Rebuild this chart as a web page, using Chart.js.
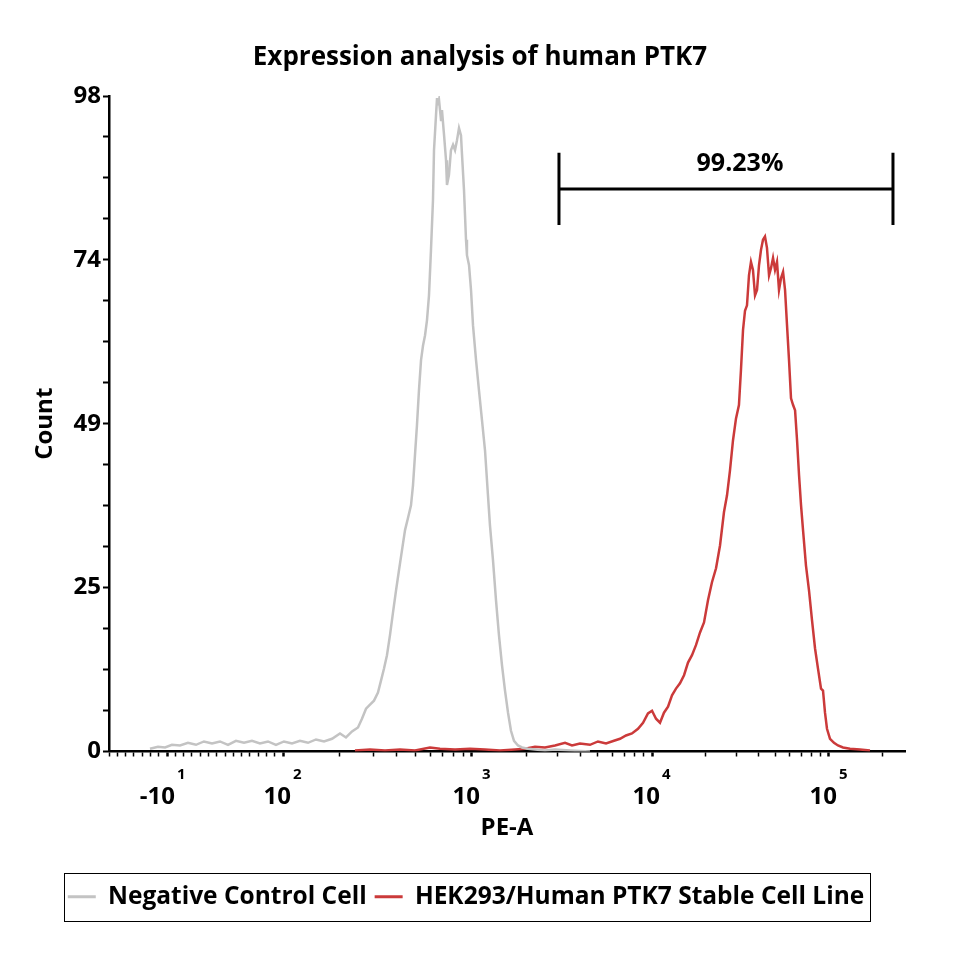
<!DOCTYPE html>
<html>
<head>
<meta charset="utf-8">
<script src="https://cdn.jsdelivr.net/npm/chart.js@4.4.1/dist/chart.umd.min.js"></script>
<style>
  html, body { margin: 0; padding: 0; background: #ffffff; }
  #wrap { width: 960px; height: 960px; }
</style>
</head>
<body>
<div id="wrap"><canvas id="c" width="960" height="960"></canvas></div>
<script>
// ---------------- DATA ----------------
// X values are display channels (0–1000) of the PE-A axis; Y values are counts.
const chartTitle = 'Expression analysis of human PTK7';
const xAxisTitle = 'PE-A';
const yAxisTitle = 'Count';
const seriesNames = ['Negative Control Cell', 'HEK293/Human PTK7 Stable Cell Line'];

const grayX = [51.5, 61.6, 70.4, 79.1, 89.2, 99.2, 109.3, 119.3, 129.4, 139.4, 149.5, 159.5, 169.6, 179.6, 189.7, 199.7, 209.8, 219.8, 229.9, 239.9, 250.0, 260.1, 270.1, 280.2, 290.2, 297.7, 305.3, 312.8, 317.8, 322.9, 327.9, 332.9, 337.9, 341.7, 345.5, 349.2, 353.0, 356.8, 360.6, 364.3, 368.1, 371.9, 375.6, 379.4, 381.9, 384.4, 386.9, 389.4, 392.0, 394.5, 397.0, 399.5, 402.0, 404.5, 407.0, 408.3, 410.8, 412.1, 413.3, 414.6, 417.1, 418.3, 420.9, 423.4, 424.6, 427.1, 429.6, 432.2, 434.7, 437.2, 439.7, 442.2, 443.5, 446.0, 448.5, 449.7, 452.3, 454.8, 457.3, 461.1, 464.8, 468.6, 472.4, 476.1, 478.6, 482.4, 486.2, 489.9, 493.7, 497.5, 501.3, 505.0, 508.8, 513.8, 518.8, 526.4, 535.2, 547.7, 560.3, 579.1, 604.3];
const grayCount = [0.4, 0.7, 0.6, 1.0, 0.9, 1.3, 1.0, 1.5, 1.2, 1.5, 1.0, 1.6, 1.3, 1.6, 1.2, 1.5, 1.0, 1.5, 1.2, 1.6, 1.3, 1.8, 1.5, 1.9, 2.7, 2.1, 3.0, 3.6, 4.9, 6.4, 7.0, 7.6, 8.8, 10.6, 12.4, 14.4, 17.4, 20.8, 24.1, 27.1, 30.1, 33.1, 34.9, 36.8, 39.8, 44.3, 48.8, 54.0, 58.5, 60.7, 62.2, 64.5, 68.2, 75.0, 82.4, 89.9, 95.1, 97.7, 96.6, 97.4, 94.4, 95.9, 92.2, 88.4, 84.7, 86.2, 89.9, 90.7, 89.9, 91.4, 93.2, 92.1, 89.2, 83.9, 76.5, 74.2, 72.7, 69.0, 63.7, 58.5, 54.0, 49.5, 45.0, 38.3, 33.8, 28.6, 22.6, 17.4, 12.9, 9.1, 5.8, 3.1, 1.6, 0.9, 0.6, 0.4, 0.3, 0.15, 0.3, 0.15, 0];

const redX = [309.0, 327.9, 346.7, 365.6, 384.4, 403.3, 415.8, 434.7, 453.5, 472.4, 491.2, 510.0, 522.6, 535.2, 547.7, 560.3, 572.9, 581.7, 591.7, 604.3, 614.3, 624.4, 634.4, 642.0, 649.5, 657.0, 664.6, 670.9, 677.1, 682.2, 687.2, 692.2, 697.2, 702.3, 707.3, 712.3, 717.3, 722.4, 727.4, 732.4, 737.4, 742.5, 747.5, 752.5, 757.5, 762.6, 767.6, 772.6, 776.4, 780.1, 783.9, 787.7, 791.4, 793.9, 796.5, 799.0, 801.5, 804.0, 806.5, 809.0, 811.6, 814.1, 816.6, 819.1, 821.6, 824.1, 826.6, 829.2, 831.7, 834.2, 836.7, 839.2, 841.7, 844.3, 846.8, 849.3, 851.8, 854.3, 856.8, 859.4, 861.9, 864.4, 866.9, 869.4, 871.9, 875.6, 879.4, 883.2, 887.0, 890.7, 894.5, 897.0, 899.5, 902.0, 905.8, 910.8, 915.8, 922.1, 930.9, 943.5, 956.0];
const redCount = [0.15, 0.3, 0.15, 0.3, 0.15, 0.6, 0.4, 0.3, 0.4, 0.3, 0.15, 0.3, 0.4, 0.7, 0.6, 0.9, 1.3, 0.9, 1.2, 1.0, 1.5, 1.2, 1.6, 1.9, 2.4, 2.7, 3.4, 4.3, 5.7, 6.1, 4.9, 4.3, 5.8, 6.7, 8.4, 9.4, 10.2, 11.4, 13.3, 14.4, 15.9, 17.8, 19.3, 22.6, 25.3, 27.4, 30.8, 35.8, 38.3, 42.0, 46.5, 49.8, 51.8, 57.0, 63.0, 65.9, 66.7, 71.2, 73.2, 72.0, 68.2, 69.0, 72.7, 75.0, 76.5, 77.0, 75.3, 71.2, 72.3, 73.8, 72.0, 73.2, 69.0, 70.8, 71.7, 69.0, 63.7, 58.5, 52.8, 51.8, 51.0, 46.5, 41.3, 36.8, 33.1, 27.8, 24.1, 19.6, 15.4, 12.4, 9.4, 9.1, 5.8, 3.4, 1.9, 1.3, 0.9, 0.6, 0.4, 0.3, 0.15];

// X axis decade ticks (channel positions) and their labels
const xTickValues = [72.9, 218.6, 456.0, 682.2, 904.5];
const xTickBase = ['-10', '10', '10', '10', '10'];
const xTickExp = ['1', '2', '3', '4', '5'];

// Y axis major ticks and labels
const yTickValues = [0, 24.5, 49, 73.5, 98];
const yTickLabels = ['0', '25', '49', '74', '98'];

// Gate (bracket) marker
const gateX = [565.3, 984.9];
const gateY = 84.1;
const gateYTop = 89.5;
const gateYBottom = 78.7;
const gateLabel = '99.23%';
const gateLabelX = 792.7;

const colors = ['#c3c3c3', '#cb3a3a'];

// ---------------- helpers ----------------
const FONT = '"Open Sans", Lato, "DejaVu Sans", sans-serif';

function xMinorTicks() {
  const out = [];
  const stepLow = (xTickValues[1] - xTickValues[0]) / 14;
  for (let v = xTickValues[0] - stepLow; v > 0; v -= stepLow) out.push(v);
  for (let i = 1; i < 14; i++) out.push(xTickValues[0] + i * stepLow);
  for (let d = 1; d < xTickValues.length; d++) {
    const a = xTickValues[d];
    const w = d + 1 < xTickValues.length ? xTickValues[d + 1] - a : xTickValues[d] - xTickValues[d - 1];
    for (let k = 2; k <= 9; k++) {
      const v = a + Math.log10(k) * w;
      if (v < 1000) out.push(v);
    }
  }
  return out;
}

const gatePlugin = {
  id: 'gatePlugin',
  afterDatasetsDraw(chart) {
    const {ctx, scales: {x, y}} = chart;
    const x1 = x.getPixelForValue(gateX[0]);
    const x2 = x.getPixelForValue(gateX[1]);
    const yl = y.getPixelForValue(gateY);
    const yt = y.getPixelForValue(gateYTop);
    const yb = y.getPixelForValue(gateYBottom);
    ctx.save();
    ctx.strokeStyle = '#000';
    ctx.lineWidth = 3;
    ctx.beginPath();
    ctx.moveTo(x1, yl); ctx.lineTo(x2, yl);
    ctx.moveTo(x1, yt); ctx.lineTo(x1, yb);
    ctx.moveTo(x2, yt); ctx.lineTo(x2, yb);
    ctx.stroke();
    ctx.fillStyle = '#000';
    ctx.font = 'bold 25px ' + FONT;
    ctx.textAlign = 'center';
    ctx.textBaseline = 'middle';
    ctx.fillText(gateLabel, x.getPixelForValue(gateLabelX), yl - 25);
    ctx.restore();
  }
};

const xLabelPlugin = {
  id: 'xLabelPlugin',
  afterDraw(chart) {
    const {ctx, scales: {x}, chartArea} = chart;
    ctx.save();
    ctx.fillStyle = '#000';
    ctx.textBaseline = 'alphabetic';
    xTickValues.forEach((v, i) => {
      const px = x.getPixelForValue(v);
      ctx.font = 'bold 24px ' + FONT;
      ctx.textAlign = 'right';
      ctx.fillText(xTickBase[i], px + 8, chartArea.bottom + 52);
      ctx.font = 'bold 15px ' + FONT;
      ctx.textAlign = 'left';
      ctx.fillText(xTickExp[i], px + 10, chartArea.bottom + 27);
    });
    ctx.restore();
  }
};

// shift the legend block left so it is centred like the reference
const legendShiftPlugin = {
  id: 'legendShiftPlugin',
  afterLayout(chart) {
    const lg = chart.legend;
    if (lg) { lg.left -= 14; lg.right -= 14; }
  }
};

const legendBoxPlugin = {
  id: 'legendBoxPlugin',
  afterDraw(chart) {
    const lg = chart.legend;
    if (!lg || !lg.legendHitBoxes || !lg.legendHitBoxes.length) return;
    const hb = lg.legendHitBoxes;
    let l = Infinity, r = -Infinity, t = Infinity, b = -Infinity;
    hb.forEach(h => {
      l = Math.min(l, h.left); r = Math.max(r, h.left + h.width);
      t = Math.min(t, h.top); b = Math.max(b, h.top + h.height);
    });
    const cy = (t + b) / 2;
    const ctx = chart.ctx;
    ctx.save();
    ctx.strokeStyle = '#000';
    ctx.lineWidth = 1;
    ctx.strokeRect(Math.round(l - 4) + 0.5, Math.round(cy - 24) + 0.5, Math.round(r - l + 10), 48);
    ctx.restore();
  }
};

const allXTicks = xTickValues.concat(xMinorTicks()).sort((a, b) => a - b);
const allYTicks = [];
for (let i = 0; i < yTickValues.length - 1; i++) {
  const a = yTickValues[i], b = yTickValues[i + 1];
  for (let k = 0; k < 4; k++) allYTicks.push(a + (b - a) * k / 4);
}
allYTicks.push(yTickValues[yTickValues.length - 1]);

const isMajorX = v => xTickValues.some(t => Math.abs(t - v) < 1e-6);

new Chart(document.getElementById('c'), {
  type: 'line',
  data: {
    datasets: [
      {
        label: seriesNames[0],
        data: grayX.map((x, i) => ({x, y: grayCount[i]})),
        borderColor: colors[0],
        backgroundColor: colors[0],
        borderWidth: 2.5,
        pointRadius: 0,
        tension: 0,
        fill: false
      },
      {
        label: seriesNames[1],
        data: redX.map((x, i) => ({x, y: redCount[i]})),
        borderColor: colors[1],
        backgroundColor: colors[1],
        borderWidth: 2.5,
        pointRadius: 0,
        tension: 0,
        fill: false
      }
    ]
  },
  options: {
    responsive: false,
    animation: false,
    devicePixelRatio: 1,
    layout: { padding: { left: 0, right: 0, top: 0, bottom: 41 } },
    plugins: {
      title: {
        display: true,
        text: chartTitle,
        color: '#000',
        font: { family: FONT, size: 26, weight: 'bold' },
        padding: { top: 42.4, bottom: 22.4 }
      },
      legend: {
        display: true,
        position: 'bottom',
        labels: {
          color: '#000',
          font: { family: FONT, size: 24.5, weight: 'bold' },
          boxWidth: 28,
          boxHeight: 3,
          padding: 8,
          generateLabels(chart) {
            return Chart.defaults.plugins.legend.labels.generateLabels(chart).map(it => {
              it.lineWidth = 0;
              return it;
            });
          }
        }
      },
      tooltip: { enabled: false }
    },
    scales: {
      x: {
        type: 'linear',
        min: 0,
        max: 1000,
        afterBuildTicks(scale) { scale.ticks = allXTicks.map(v => ({value: v})); },
        afterFit(scale) { scale.height = 125; },
        grid: {
          drawOnChartArea: false,
          drawTicks: true,
          tickLength: 5,
          tickColor: '#000',
          tickWidth: ctx => (ctx.tick && isMajorX(ctx.tick.value)) ? 2.5 : 1.5
        },
        border: { display: true, color: '#000', width: 2.5 },
        ticks: { display: false, autoSkip: false },
        title: {
          display: true,
          text: xAxisTitle,
          color: '#000',
          font: { family: FONT, size: 24, weight: 'bold' },
          padding: { top: 0, bottom: 33.6 }
        }
      },
      y: {
        type: 'linear',
        min: 0,
        max: 98,
        afterBuildTicks(scale) { scale.ticks = allYTicks.map(v => ({value: v})); },
        afterFit(scale) { scale.width = 109; },
        grid: {
          drawOnChartArea: false,
          drawTicks: true,
          tickLength: 6,
          tickColor: '#000',
          tickWidth: 2
        },
        border: { display: true, color: '#000', width: 2.5 },
        ticks: {
          autoSkip: false,
          color: '#000',
          padding: 2,
          font: { family: FONT, size: 24, weight: 'bold' },
          callback(value) {
            const i = yTickValues.findIndex(t => Math.abs(t - value) < 1e-6);
            return i >= 0 ? yTickLabels[i] : '';
          }
        },
        title: {
          display: true,
          text: yAxisTitle,
          color: '#000',
          font: { family: FONT, size: 24, weight: 'bold' },
          padding: { top: 30.6, bottom: 0 }
        }
      },
      yRightSpacer: {
        axis: 'y',
        position: 'right',
        display: true,
        afterFit(scale) { scale.width = 55; },
        grid: { display: false, drawTicks: false },
        border: { display: false },
        ticks: { display: false }
      }
    }
  },
  plugins: [legendShiftPlugin, gatePlugin, xLabelPlugin, legendBoxPlugin]
});
</script>
</body>
</html>
